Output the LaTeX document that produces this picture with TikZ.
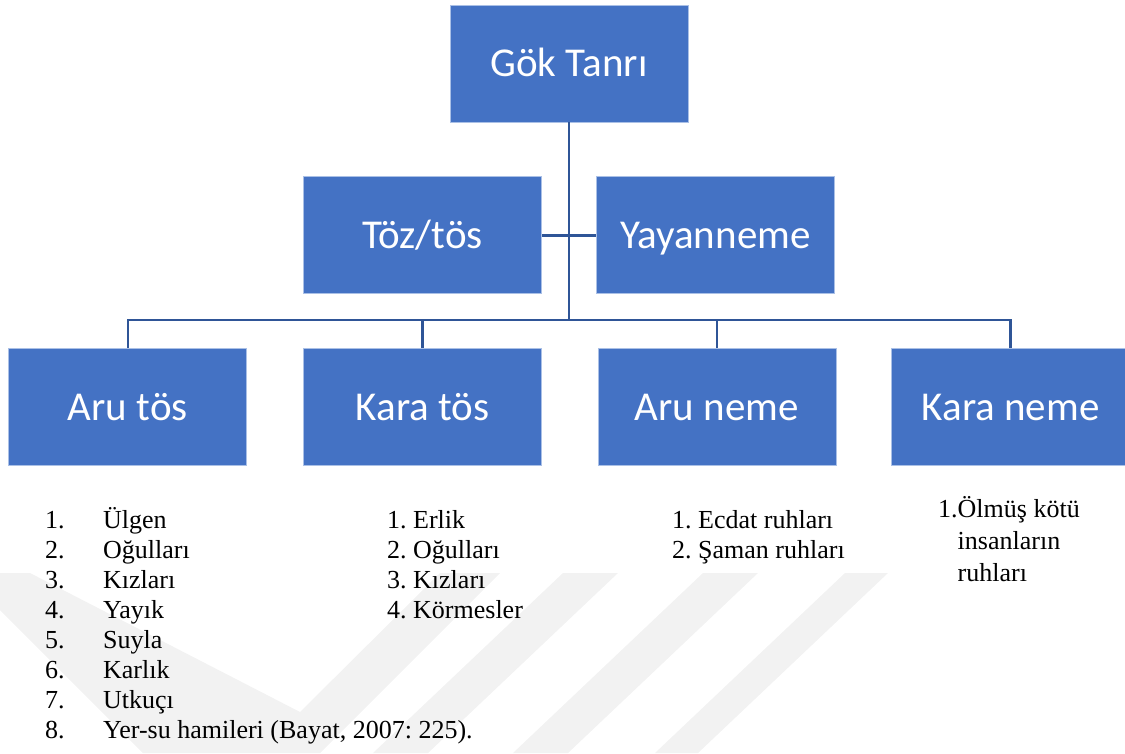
\documentclass[tikz,border=0pt]{standalone}
\usepackage{fontspec}
\setmainfont{Liberation Serif}
\newfontfamily\boxfont{Carlito}
\usepackage{xcolor}
\usetikzlibrary{positioning}
\frenchspacing

\definecolor{boxblue}{RGB}{68,114,196}
\definecolor{boxedge}{RGB}{170,192,230}
\definecolor{linkblue}{RGB}{47,85,151}

\begin{document}
\begin{tikzpicture}[x=1pt, y=-1pt,
deity/.style={rectangle, draw=boxedge, fill=boxblue, line width=0.8pt, minimum width=238pt, minimum height=117pt, inner sep=0pt, text height=30pt, text depth=4pt, text=white, font=\boxfont\fontsize{41}{49}\selectfont},
listtext/.style={inner sep=0pt, anchor=base west, font=\fontsize{26}{30}\selectfont},
link/.style={draw=linkblue, line width=2.5pt},
watermark/.style={fill=black!5}
]
	\useasboundingbox (0,0) rectangle (1125,753);
	% faint watermark behind the lists
	\fill[watermark] (0,573) -- (30,573) -- (300,712) -- (440,573) -- (500,573) -- (320,753) -- (143,753) -- (0,610) -- cycle;
	\fill[watermark] (373,753) -- (428,753) -- (618,573) -- (563,573) -- cycle;
	\fill[watermark] (513,753) -- (568,753) -- (758,573) -- (703,573) -- cycle;
	\fill[watermark] (655,753) -- (698,753) -- (888,573) -- (845,573) -- cycle;
	\node[deity] (gok) at (569,63.5) {Gök Tanrı};
	\node[deity, anchor=north east, shift={(-27,54)}] (toz) at (gok.south) {Töz/tös};
	\node[deity, anchor=north west, shift={(27,54)}] (yay) at (gok.south) {Yayanneme};
	\node[deity, anchor=north, shift={(0,54)}] (karatos) at (toz.south) {Kara tös};
	\node[deity, anchor=east, shift={(-56,0)}] (arutos) at (karatos.west) {Aru tös};
	\node[deity, anchor=north, shift={(1.5,54)}] (aruneme) at (yay.south) {Aru neme};
	\node[deity, anchor=west, shift={(55,0)}] (karaneme) at (aruneme.east) {Kara neme};
	\coordinate (bus) at (569,320);
	% lists under the boxes
	\node[listtext] (arulist) at (45,528) {\begin{tabular}[t]{@{}p{58pt}@{}l@{}}
		1. & Ülgen\\ 2. & Oğulları\\ 3. & Kızları\\ 4. & Yayık\\
		5. & Suyla\\ 6. & Karlık\\ 7. & Utkuçı\\ 8. & Yer-su hamileri (Bayat, 2007: 225).
	\end{tabular}};
	\node[listtext] (karalist) at (387,528) {\begin{tabular}[t]{@{}l@{}}
		1. Erlik\\ 2. Oğulları\\ 3. Kızları\\ 4. Körmesler
	\end{tabular}};
	\node[listtext] (arunemelist) at (672,528) {\begin{tabular}[t]{@{}l@{}}
		1. Ecdat ruhları\\ 2. Şaman ruhları
	\end{tabular}};
	\node[listtext, font=\fontsize{26}{32}\selectfont] (karanemelist) at (938,517) {\begin{tabular}[t]{@{}l@{}l@{}}
		1. & Ölmüş kötü\\ & insanların\\ & ruhları
	\end{tabular}};
	% connectors
	\draw[link] (gok.south) -- (bus);
	\draw[link] (toz.east) -- (yay.west);
	\draw[link] (arutos.north) -- (arutos.north |- bus) -- (karaneme.north |- bus) -- (karaneme.north);
	\draw[link] (karatos.north) -- (karatos.north |- bus);
	\draw[link] (aruneme.north) -- (aruneme.north |- bus);
\end{tikzpicture}
\end{document}
